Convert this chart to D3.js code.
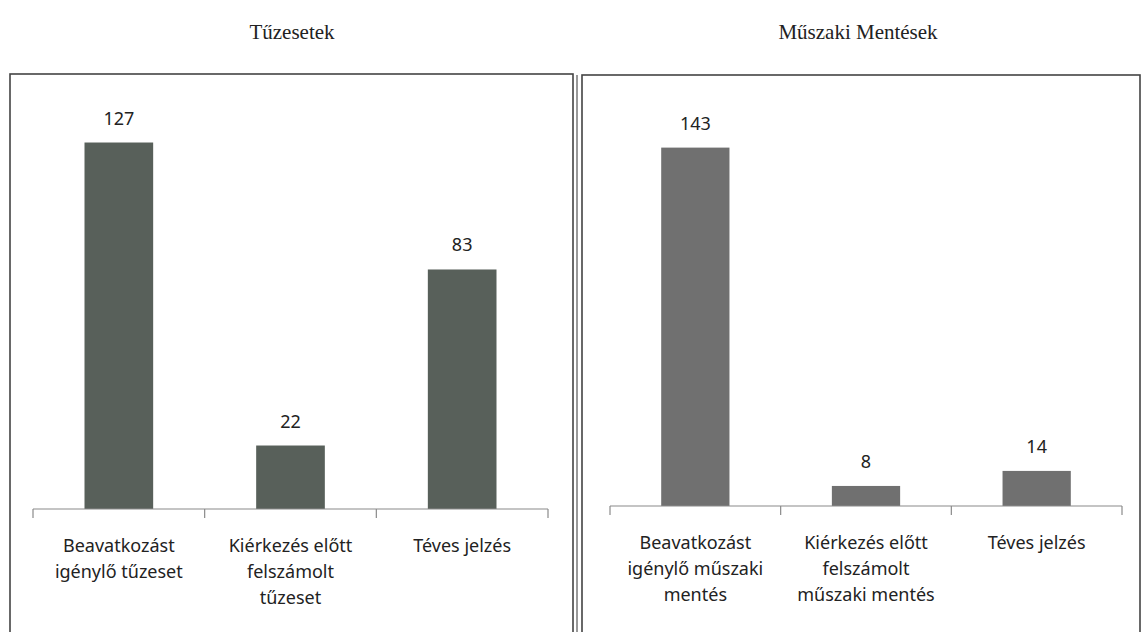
<!DOCTYPE html>
<html>
<head>
<meta charset="utf-8">
<script src="https://cdn.jsdelivr.net/npm/d3@7"></script>
<style>
  body { margin: 0; background: #fff; }
  svg { display: block; }
</style>
</head>
<body>
<div id="chart"></div>
<script>
const titles = ["Tűzesetek", "Műszaki Mentések"];

const fireCategories = [
  ["Beavatkozást", "igénylő tűzeset"],
  ["Kiérkezés előtt", "felszámolt", "tűzeset"],
  ["Téves jelzés"]
];
const fireValues = [127, 22, 83];

const rescueCategories = [
  ["Beavatkozást", "igénylő műszaki", "mentés"],
  ["Kiérkezés előtt", "felszámolt", "műszaki mentés"],
  ["Téves jelzés"]
];
const rescueValues = [143, 8, 14];

const W = 1142, H = 632;

const svg = d3.select("#chart")
  .append("svg")
  .attr("width", W)
  .attr("height", H);

svg.append("rect").attr("width", W).attr("height", H).attr("fill", "#fff");

const drawPanel = (cfg) => {
  const g = svg.append("g");

  // panel frame
  g.append("rect")
    .attr("x", cfg.box[0])
    .attr("y", cfg.box[1])
    .attr("width", cfg.box[2] - cfg.box[0])
    .attr("height", cfg.box[3] - cfg.box[1])
    .attr("fill", "none")
    .attr("stroke", "#444")
    .attr("stroke-width", 1.6);

  // title above the frame
  g.append("text")
    .attr("x", cfg.titleX)
    .attr("y", 39)
    .attr("text-anchor", "middle")
    .attr("font-family", "'Liberation Serif', 'DejaVu Serif', serif")
    .attr("font-size", "21px")
    .attr("fill", "#222")
    .text(cfg.title);

  const x = d3.scaleBand()
    .domain(d3.range(cfg.values.length))
    .range(cfg.xRange)
    .paddingInner(0.6)
    .paddingOuter(0.3);

  const y = d3.scaleLinear()
    .domain([0, cfg.yMax])
    .range([cfg.axisY, 105]);

  // bars
  g.selectAll("rect.bar")
    .data(cfg.values)
    .join("rect")
    .attr("class", "bar")
    .attr("x", (d, i) => x(i))
    .attr("y", d => y(d))
    .attr("width", x.bandwidth())
    .attr("height", d => y(0) - y(d))
    .attr("fill", cfg.color);

  // value labels
  g.selectAll("text.val")
    .data(cfg.values)
    .join("text")
    .attr("class", "val")
    .attr("x", (d, i) => x(i) + x.bandwidth() / 2)
    .attr("y", d => y(d) - 18)
    .attr("text-anchor", "middle")
    .attr("font-family", "'Noto Sans', 'Open Sans', sans-serif")
    .attr("font-size", "18px")
    .attr("fill", "#222")
    .text(d => d);

  // category axis line
  g.append("line")
    .attr("x1", cfg.xRange[0])
    .attr("x2", cfg.xRange[1])
    .attr("y1", y(0))
    .attr("y2", y(0))
    .attr("stroke", "#8a8a8a")
    .attr("stroke-width", 1.2);

  // tick marks between categories
  const edges = d3.range(cfg.values.length + 1)
    .map(i => cfg.xRange[0] + i * x.step());
  g.selectAll("line.tick")
    .data(edges)
    .join("line")
    .attr("class", "tick")
    .attr("x1", d => d)
    .attr("x2", d => d)
    .attr("y1", y(0))
    .attr("y2", y(0) + 9)
    .attr("stroke", "#8a8a8a")
    .attr("stroke-width", 1.2);

  // wrapped category labels
  const labels = g.selectAll("text.cat")
    .data(cfg.categories)
    .join("text")
    .attr("class", "cat")
    .attr("x", (d, i) => x(i) + x.bandwidth() / 2)
    .attr("y", y(0) + 43)
    .attr("text-anchor", "middle")
    .attr("font-family", "'Noto Sans', 'Open Sans', sans-serif")
    .attr("font-size", "18px")
    .attr("fill", "#222");

  labels.each(function (lines) {
    const t = d3.select(this);
    lines.forEach((line, k) => {
      t.append("tspan")
        .attr("x", t.attr("x"))
        .attr("dy", k === 0 ? 0 : 26)
        .text(line);
    });
  });
};

drawPanel({
  title: titles[0],
  titleX: 292,
  box: [10, 74, 573, 640],
  xRange: [33, 548],
  axisY: 509,
  yMax: 140,
  values: fireValues,
  categories: fireCategories,
  color: "#58605a"
});

drawPanel({
  title: titles[1],
  titleX: 858,
  box: [582, 75, 1140, 640],
  xRange: [610, 1122],
  axisY: 506,
  yMax: 160,
  values: rescueValues,
  categories: rescueCategories,
  color: "#707070"
});

// inner second stroke of the double edge between the panels
svg.append("line")
  .attr("x1", 577).attr("x2", 577)
  .attr("y1", 75).attr("y2", H)
  .attr("stroke", "#555")
  .attr("stroke-width", 1.2);
</script>
</body>
</html>
